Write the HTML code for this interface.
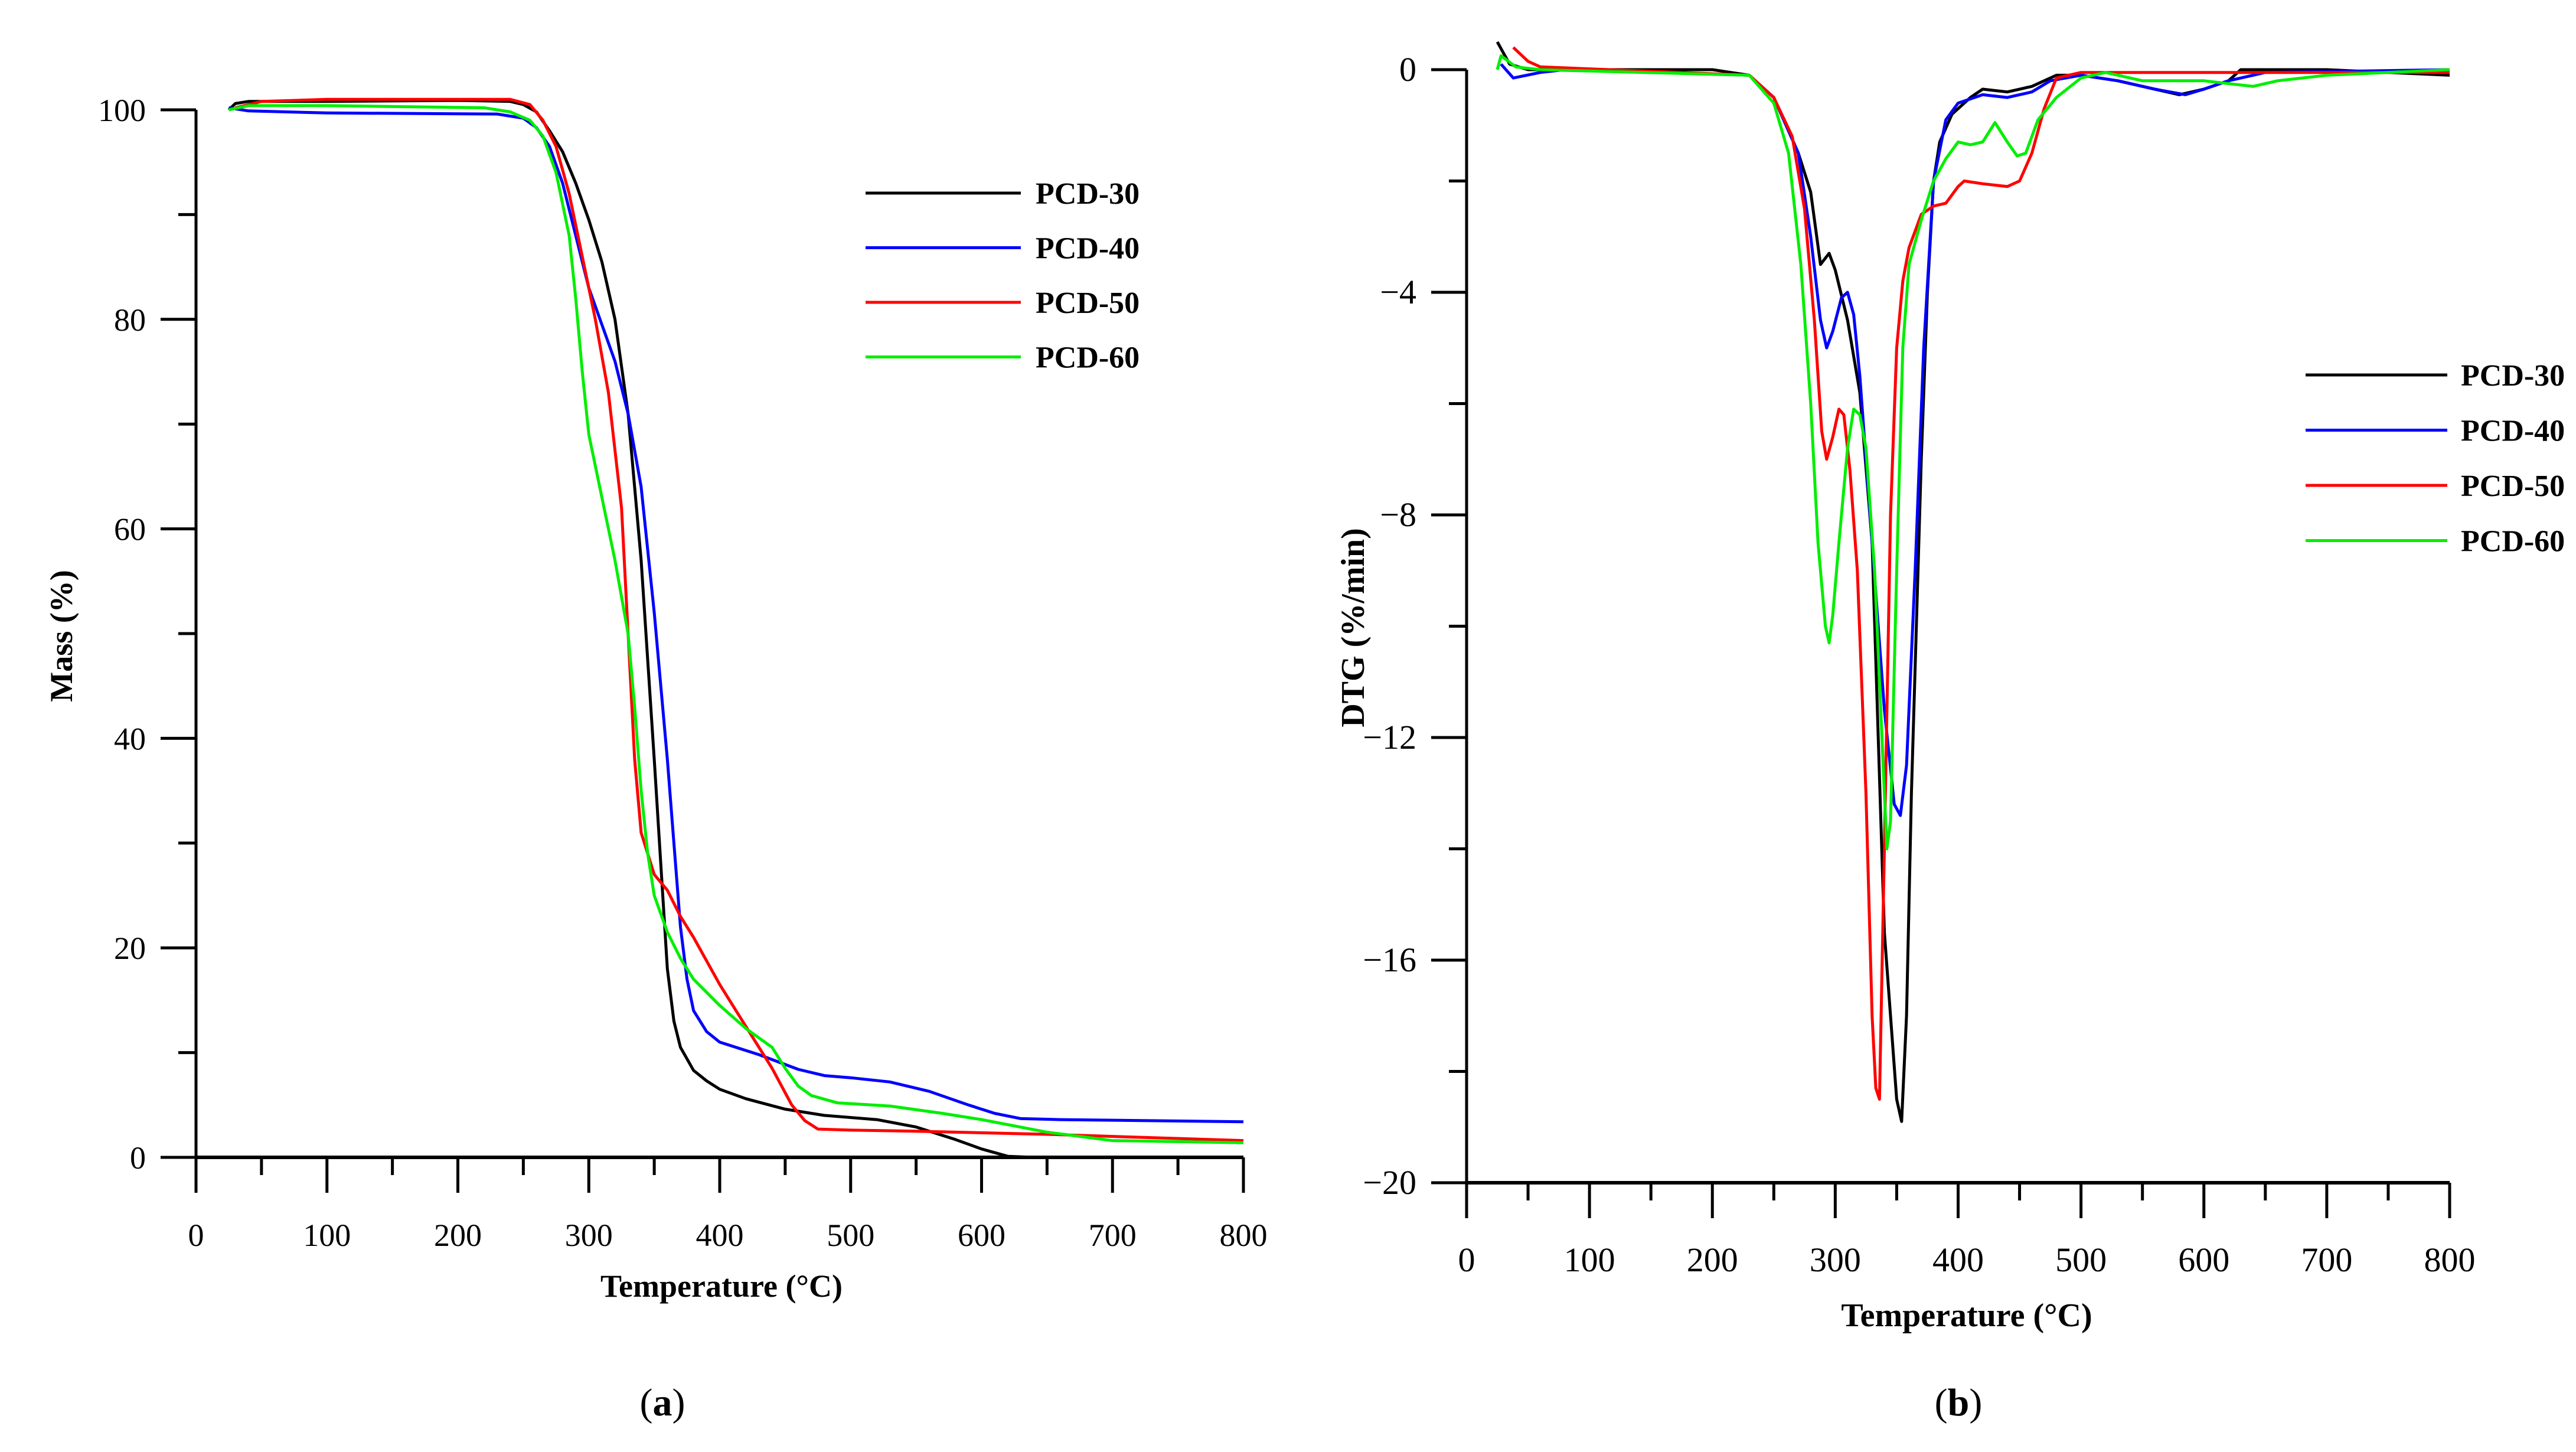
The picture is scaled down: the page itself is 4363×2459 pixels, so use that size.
<!DOCTYPE html>
<html><head><meta charset="utf-8"><style>
html,body{margin:0;padding:0;background:#fff;}
svg{display:block;}
text{font-family:"Liberation Serif",serif;fill:#000;}
</style></head><body>
<svg id="chart" width="4363" height="2459" viewBox="0 0 4363 2459" xmlns="http://www.w3.org/2000/svg">
<g id="pa"></g>
<g id="pb"></g>
<text x="0" y="0" transform="translate(122,1077) rotate(-90)" text-anchor="middle" font-size="54" font-weight="bold">Mass (%)</text>
<text x="1222" y="2196" text-anchor="middle" font-size="54" font-weight="bold">Temperature (°C)</text>
<text x="1122" y="2397" text-anchor="middle" font-size="66">(<tspan font-weight="bold">a</tspan>)</text>
<text x="0" y="0" transform="translate(2310,1063) rotate(-90)" text-anchor="middle" font-size="56" font-weight="bold">DTG (%/min)</text>
<text x="3331" y="2246" text-anchor="middle" font-size="56" font-weight="bold">Temperature (°C)</text>
<text x="3317" y="2397" text-anchor="middle" font-size="66">(<tspan font-weight="bold">b</tspan>)</text>
</svg>
<script>
const seriesNames = ["PCD-30","PCD-40","PCD-50","PCD-60"];
const seriesColors = ["#000000","#0000ff","#ff0000","#00ee00"];
const xTicks = [0,100,200,300,400,500,600,700,800];
const massTicks = [0,20,40,60,80,100];
const dtgTicks = [0,-4,-8,-12,-16,-20];

const mass30T = [25,30,40,100,200,240,250,260,270,280,290,300,310,320,330,340,350,355,360,365,370,380,390,400,420,450,480,520,550,580,600,620,640,800];
const mass30V = [100,100.6,100.8,100.8,100.9,100.8,100.5,99.8,98,96,93,89.5,85.5,80,71,57,38,28,18,13,10.5,8.3,7.3,6.5,5.6,4.6,4,3.6,2.9,1.7,0.8,0.1,0,0];
const mass40T = [25,40,100,230,250,260,270,280,290,300,310,320,330,340,350,360,365,370,375,380,390,400,430,460,480,500,530,560,590,610,630,660,800];
const mass40V = [100.2,99.9,99.7,99.6,99.2,98.3,96.5,93,88,83,79.5,76,71,64,52,38,30,22,17,14,12,11,9.8,8.4,7.8,7.6,7.2,6.3,5,4.2,3.7,3.6,3.4];
const mass50T = [30,50,100,240,255,265,275,285,295,305,315,325,330,335,340,350,360,370,380,400,420,440,455,465,475,500,550,650,800];
const mass50V = [100.2,100.8,101,101,100.5,99,96.5,92,86,80,73,62,50,38,31,27,25.5,23,21,16.5,12.5,8.5,5,3.5,2.7,2.6,2.5,2.2,1.6];
const mass60T = [25,40,100,220,240,255,265,275,285,290,295,300,310,320,330,335,340,345,350,360,370,380,400,420,440,450,460,470,490,530,570,600,650,700,800];
const mass60V = [100,100.4,100.4,100.2,99.8,99,97.5,94,88,82,75,69,63,57,50,43,35,29,25,21.5,19,17,14.5,12.3,10.5,8.5,6.8,5.9,5.2,4.9,4.2,3.6,2.4,1.6,1.4];

const dtg30T = [25,35,50,200,230,250,260,270,280,288,295,300,310,320,330,335,340,345,350,354,358,362,370,375,380,385,395,410,420,440,460,480,500,530,560,580,600,620,630,700,800];
const dtg30V = [0.5,0.1,0,0,-0.1,-0.5,-1.0,-1.5,-2.2,-3.5,-3.3,-3.6,-4.5,-5.8,-8.5,-12,-15.5,-17,-18.5,-18.9,-17,-13,-7,-4,-2,-1.3,-0.8,-0.5,-0.35,-0.4,-0.3,-0.1,-0.1,-0.2,-0.35,-0.45,-0.35,-0.2,0,0,-0.1];
const dtg40T = [28,38,60,80,230,250,270,280,288,293,298,305,310,315,320,330,340,348,353,358,365,372,380,390,400,420,440,460,475,500,530,560,585,600,620,650,800];
const dtg40V = [0.1,-0.15,-0.05,0,-0.1,-0.5,-1.5,-3,-4.5,-5.0,-4.7,-4.1,-4.0,-4.4,-5.5,-8.5,-11.5,-13.2,-13.4,-12.5,-9,-5,-2,-0.9,-0.6,-0.45,-0.5,-0.4,-0.2,-0.1,-0.2,-0.35,-0.45,-0.35,-0.2,-0.05,0];
const dtg50T = [38,50,60,230,250,265,275,283,289,293,298,303,307,312,318,325,330,333,336,340,345,350,355,360,370,380,390,400,405,420,440,450,460,470,480,500,800];
const dtg50V = [0.4,0.15,0.05,-0.1,-0.5,-1.2,-2.5,-4.5,-6.5,-7.0,-6.6,-6.1,-6.2,-7.2,-9,-13,-17,-18.3,-18.5,-14,-8,-5,-3.8,-3.2,-2.6,-2.45,-2.4,-2.1,-2.0,-2.05,-2.1,-2.0,-1.5,-0.7,-0.15,-0.05,-0.05];
const dtg60T = [25,28,40,60,230,250,262,272,280,286,292,295,298,303,310,315,320,325,332,338,342,345,350,355,360,370,380,390,400,410,420,430,440,448,455,465,480,500,520,550,600,640,660,700,800];
const dtg60V = [0,0.25,0.05,0,-0.1,-0.6,-1.5,-3.5,-6,-8.5,-10,-10.3,-9.8,-8.5,-6.8,-6.1,-6.2,-6.8,-9,-12,-14,-13.5,-9,-5,-3.5,-2.7,-2.0,-1.6,-1.3,-1.35,-1.3,-0.95,-1.3,-1.55,-1.5,-0.9,-0.5,-0.15,-0.05,-0.2,-0.2,-0.3,-0.2,-0.1,0];

const NS = "http://www.w3.org/2000/svg";
function mk(tag, attrs, parent){const e=document.createElementNS(NS,tag);for(const k in attrs)e.setAttribute(k,attrs[k]);parent.appendChild(e);return e;}

const ax = v => 332 + (v/800)*(2106-332);
const ay = v => 1960 - (v/100)*(1960-186);
const bx = v => 2484 + (v/800)*(4149-2484);
const by = v => 118 + (v/-20)*(2003-118);

const pa = document.getElementById('pa');
const pb = document.getElementById('pb');

function drawPanel(g, sx, sy, ytks, yMinor, yBase, yTop, fs, labelFmt, seriesT, seriesV, legX, legY, legGap, legLen, legTxt){
  const x0 = sx(0), x1 = sx(800), yb = sy(yBase);
  let e;
  e = mk('line',{x1:x0,y1:yb,x2:x1,y2:yb,stroke:'#000','stroke-width':6},g);
  
  
  e = mk('line',{x1:x0,y1:sy(yTop),x2:x0,y2:yb+60,stroke:'#000','stroke-width':5},g);
  
  
  for(let t=0;t<=800;t+=50){
    const major = t%100===0;
    e = mk('line',{x1:sx(t),y1:yb,x2:sx(t),y2:yb+(major?60:30),stroke:'#000','stroke-width':5},g);
    
    
  }
  xTicks.forEach(t=>{
    e = mk('text',{x:sx(t),y:yb+150,'text-anchor':'middle','font-size':fs},g);
    e.textContent = String(t);
    
    
  });
  ytks.forEach(t=>{
    e = mk('line',{x1:x0-60,y1:sy(t),x2:x0,y2:sy(t),stroke:'#000','stroke-width':5},g);
    
    
    e = mk('text',{x:x0-85,y:sy(t)+19,'text-anchor':'end','font-size':fs},g);
    e.textContent = labelFmt(t);
    
    
  });
  yMinor.forEach(t=>{
    e = mk('line',{x1:x0-30,y1:sy(t),x2:x0,y2:sy(t),stroke:'#000','stroke-width':5},g);
    
    
  });
  seriesT.forEach((T,i)=>{
    const V = seriesV[i];
    let d = '';
    T.forEach((t,j)=>{ d += (j?'L':'M') + sx(t).toFixed(1) + ',' + sy(V[j]).toFixed(1); });
    e = mk('path',{d:d,fill:'none',stroke:seriesColors[i],'stroke-width':5,'stroke-linejoin':'round'},g);
    
    
  });
  seriesNames.forEach((n,i)=>{
    const y = legY + i*legGap;
    e = mk('line',{x1:legX,y1:y,x2:legX+legLen,y2:y,stroke:seriesColors[i],'stroke-width':5},g);
    
    
    e = mk('text',{x:legTxt,y:y+18,'font-size':52,'font-weight':'bold'},g);
    e.textContent = n;
    
    
  });
}

drawPanel(pa, ax, ay, massTicks, [10,30,50,70,90], 0, 100, 54, t=>String(t),
  [mass30T,mass40T,mass50T,mass60T],[mass30V,mass40V,mass50V,mass60V], 1466, 327, 92.5, 263, 1754);
drawPanel(pb, bx, by, dtgTicks, [-2,-6,-10,-14,-18], -20, 0, 58, t=>t===0?'0':'\u2212'+Math.abs(t),
  [dtg30T,dtg40T,dtg50T,dtg60T],[dtg30V,dtg40V,dtg50V,dtg60V], 3905, 635, 93.5, 240, 4168);
</script>
</body></html>
